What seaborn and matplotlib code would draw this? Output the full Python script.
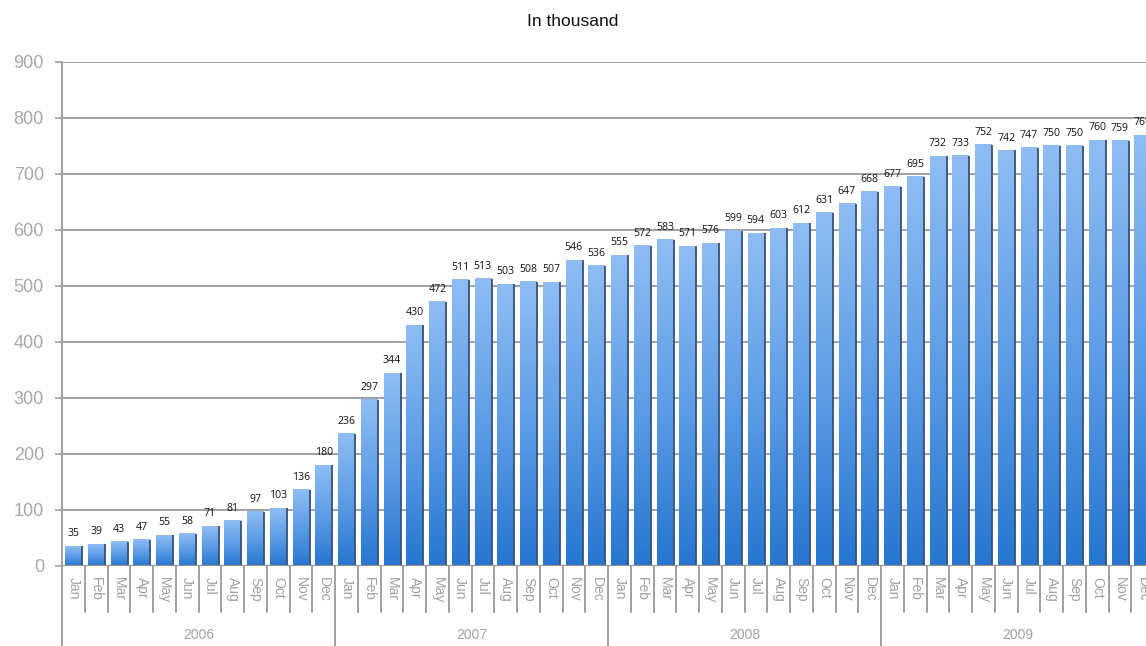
import numpy as np
import pandas as pd
import matplotlib
matplotlib.use("Agg")
import matplotlib.pyplot as plt
from matplotlib.colors import LinearSegmentedColormap
import matplotlib.transforms as mtransforms
import seaborn as sns

years = ["2006", "2007", "2008", "2009"]
months = ["Jan", "Feb", "Mar", "Apr", "May", "Jun", "Jul", "Aug", "Sep", "Oct", "Nov", "Dec"]
values_2006 = [35, 39, 43, 47, 55, 58, 71, 81, 97, 103, 136, 180]
values_2007 = [236, 297, 344, 430, 472, 511, 513, 503, 508, 507, 546, 536]
values_2008 = [555, 572, 583, 571, 576, 599, 594, 603, 612, 631, 647, 668]
values_2009 = [677, 695, 732, 733, 752, 742, 747, 750, 750, 760, 759, 769]
y_ticks = [0, 100, 200, 300, 400, 500, 600, 700, 800, 900]
title = "In thousand"

all_values = values_2006 + values_2007 + values_2008 + values_2009
df = pd.DataFrame({
    "idx": list(range(len(all_values))),
    "month": months * len(years),
    "year": [y for y in years for _ in months],
    "value": all_values,
})

sns.set_theme(style="white")
plt.rcParams["font.family"] = ["Liberation Sans", "DejaVu Sans"]

W, H = 1146, 646
fig = plt.figure(figsize=(W / 100, H / 100), dpi=100)
left_px, right_px, bot_px, top_px = 62, 1154, 566, 62
ax = fig.add_axes([left_px / W, (H - bot_px) / H, (right_px - left_px) / W, (bot_px - top_px) / H])

sns.barplot(data=df, x="idx", y="value", ax=ax, width=0.72, color="#5a9be6",
            order=df["idx"].tolist(), errorbar=None, zorder=3)

ax.set_ylim(0, 900)
ax.set_xlim(-0.5, len(all_values) - 0.5)

cmap = LinearSegmentedColormap.from_list("barg", ["#2676d0", "#5d9de6", "#8fbdf3"])
grad = np.linspace(0, 1, 256).reshape(-1, 1)
for p in ax.patches:
    x0 = p.get_x()
    w = p.get_width()
    h = p.get_height()
    p.set_facecolor("none")
    p.set_edgecolor("none")
    ax.imshow(grad, cmap=cmap, origin="lower", aspect="auto",
              extent=[x0, x0 + w, 0, h], zorder=3, interpolation="bilinear")
    ax.plot([x0 + w + 0.03, x0 + w + 0.03], [0, h], color="#34527a", lw=1.3,
            zorder=3.5, solid_capstyle="butt")
    ax.annotate(f"{int(round(h))}", (x0 + w / 2, h), xytext=(0, 5),
                textcoords="offset points", ha="center", va="bottom",
                fontsize=7.6, color="#111111", family=["Open Sans", "DejaVu Sans"],
                zorder=5, annotation_clip=False)

ax.set_xlim(-0.5, len(all_values) - 0.5)
ax.set_ylim(0, 900)

# grid
for yv in y_ticks:
    ax.axhline(yv, color="#a0a0a0", lw=1.4, zorder=1)
ax.axhline(0, color="#909090", lw=1.6, zorder=4)

ax.set_yticks(y_ticks)
ax.set_yticklabels([str(v) for v in y_ticks], fontsize=13, color="#a8a8a8")
ax.tick_params(axis="y", length=5, width=1.2, color="#a0a0a0", pad=8, left=True)

ax.set_xticks(df["idx"].tolist())
ax.set_xticklabels(df["month"].tolist(), rotation=-90, fontsize=10, color="#a0a0a0", va="top")
ax.tick_params(axis="x", length=0, pad=8)
ax.set_xlabel("")
ax.set_ylabel("")
for s in ax.spines.values():
    s.set_visible(False)

trans = mtransforms.blended_transform_factory(ax.transData, ax.transAxes)
axh = bot_px - top_px
month_drop = -(612 - bot_px) / axh
year_drop = -(H - bot_px + 2) / axh
n = len(all_values)
for i in range(n + 1):
    xs = i - 0.5
    if i % 12 == 0:
        ax.plot([xs, xs], [1.0 if i == 0 else 0, year_drop], transform=trans,
                color="#a0a0a0", lw=1.4, clip_on=False, zorder=4)
    else:
        ax.plot([xs, xs], [0, month_drop], transform=trans,
                color="#a0a0a0", lw=1.4, clip_on=False, zorder=4)

year_y = -(635 - bot_px) / axh
for k, yr in enumerate(years):
    ax.text(k * 12 + 5.5, year_y, yr, transform=trans, ha="center", va="center",
            fontsize=10, color="#a0a0a0")

fig.text(0.5, 1 - 22 / H, title, ha="center", va="center", fontsize=12.5, color="#111111")

fig.savefig("out.png", dpi=100)
